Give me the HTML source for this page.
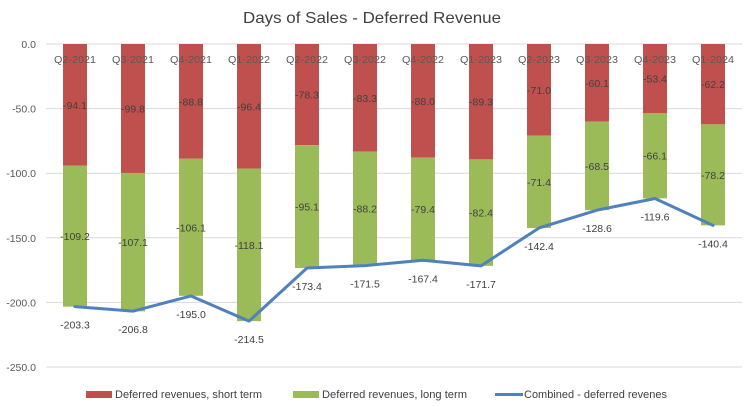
<!DOCTYPE html>
<html><head><meta charset="utf-8"><style>
body{margin:0;background:#fff;}
svg{display:block;font-family:"Liberation Sans",sans-serif;}
</style></head><body>
<svg id="chart" width="745" height="407" viewBox="0 0 745 407">
<text x="372" y="23" text-anchor="middle" font-size="16" fill="#404040" textLength="258" lengthAdjust="spacingAndGlyphs">Days of Sales - Deferred Revenue</text>
<g id="grid"></g><g id="bars"></g><g id="line"></g><g id="labels"></g>
<g>
<g><rect x="86" y="391" width="26" height="7" fill="#C0504D"/><text x="115" y="398" font-size="11" fill="#404040" textLength="147" lengthAdjust="spacingAndGlyphs">Deferred revenues, short term</text></g>
<g><rect x="293" y="391" width="26" height="7" fill="#9BBB59"/><text x="322" y="398" font-size="11" fill="#404040" textLength="145" lengthAdjust="spacingAndGlyphs">Deferred revenues, long term</text></g>
<g><line x1="495" y1="394.5" x2="523" y2="394.5" stroke="#4F81BD" stroke-width="3"/><text x="524" y="398" font-size="11" fill="#404040" textLength="143" lengthAdjust="spacingAndGlyphs">Combined - deferred revenes</text></g>
</g>
</svg>
<script>
const categories=["Q2-2021","Q3-2021","Q4-2021","Q1-2022","Q2-2022","Q3-2022","Q4-2022","Q1-2023","Q2-2023","Q3-2023","Q4-2023","Q1-2024"];
const shortTerm=[-94.1,-99.8,-88.8,-96.4,-78.3,-83.3,-88.0,-89.3,-71.0,-60.1,-53.4,-62.2];
const longTerm=[-109.2,-107.1,-106.1,-118.1,-95.1,-88.2,-79.4,-82.4,-71.4,-68.5,-66.1,-78.2];
const combined=[-203.3,-206.8,-195.0,-214.5,-173.4,-171.5,-167.4,-171.7,-142.4,-128.6,-119.6,-140.4];
const yTicks=[0,-50,-100,-150,-200,-250];
const NS="http://www.w3.org/2000/svg";
const plotL=46,plotR=742,y0=44,y1=367;
const y=v=>y0+(0-v)/250*(y1-y0);
const step=(plotR-plotL)/categories.length;
const x=i=>plotL+step*(i+0.5);
const bw=24;
function mk(tag,attrs,parent,txt){const e=document.createElementNS(NS,tag);for(const k in attrs)e.setAttribute(k,attrs[k]);if(txt!==undefined)e.textContent=txt;document.getElementById(parent).appendChild(e);return e;}
yTicks.forEach(t=>{
  const g=mk("line",{x1:plotL,x2:plotR,y1:y(t),y2:y(t),stroke:"#d9d9d9","stroke-width":1},"grid");
  
  
  const l=mk("text",{x:36,y:y(t)+4,"text-anchor":"end","font-size":10.5,fill:"#595959"},"grid",t.toFixed(1));
  
  
});
categories.forEach((c,i)=>{
  const r1=mk("rect",{x:x(i)-bw/2,y:y(0),width:bw,height:y(shortTerm[i])-y(0),fill:"#C0504D"},"bars");
  
  
  const r2=mk("rect",{x:x(i)-bw/2,y:y(shortTerm[i]),width:bw,height:y(shortTerm[i]+longTerm[i])-y(shortTerm[i]),fill:"#9BBB59"},"bars");
  
  
  const cl=mk("text",{x:x(i),y:63,"text-anchor":"middle","font-size":10.5,fill:"#595959",textLength:42,lengthAdjust:"spacingAndGlyphs"},"labels",c);
  
  
  const s=mk("text",{x:x(i),y:(y(0)+y(shortTerm[i]))/2+4,"text-anchor":"middle","font-size":10.5,fill:"#404040"},"labels",shortTerm[i].toFixed(1));
  
  
  const lt=mk("text",{x:x(i),y:(y(shortTerm[i])+y(shortTerm[i]+longTerm[i]))/2+4,"text-anchor":"middle","font-size":10.5,fill:"#404040"},"labels",longTerm[i].toFixed(1));
  
  
  const cb=mk("text",{x:x(i),y:y(combined[i])+22,"text-anchor":"middle","font-size":10.5,fill:"#404040"},"labels",combined[i].toFixed(1));
  
  
});
const pts=combined.map((v,i)=>x(i)+","+y(v)).join(" ");
const pl=mk("polyline",{points:pts,fill:"none",stroke:"#4F81BD","stroke-width":3,"stroke-linejoin":"round","stroke-linecap":"round"},"line");


</script>
</body></html>
